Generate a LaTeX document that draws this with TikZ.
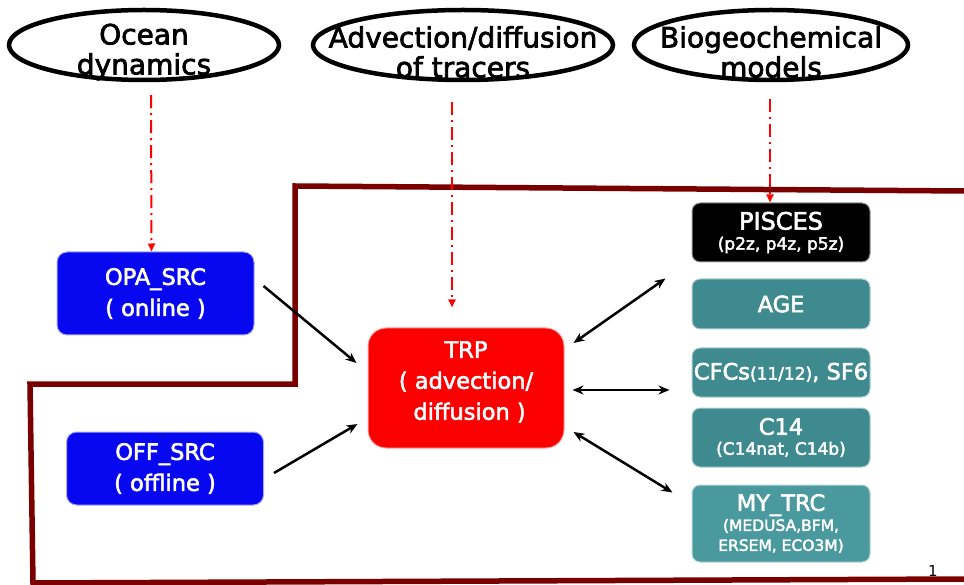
\documentclass[tikz,border=0pt]{standalone}
\usepackage{fontspec}
\setmainfont{DejaVu Sans}
\newfontfamily\heavysans[FakeBold=2.5]{DejaVu Sans}
\usetikzlibrary{arrows.meta,shapes.geometric}

\definecolor{srcblue}{RGB}{8,8,240}
\definecolor{trpred}{RGB}{252,0,0}
\definecolor{trcteal}{RGB}{62,138,143}
\definecolor{trcteal2}{RGB}{74,153,158}
\definecolor{framered}{RGB}{122,0,0}

\newcommand{\subtxt}[1]{{\fontsize{17}{20}\selectfont #1}}

\begin{document}
\begin{tikzpicture}[x=1pt, y=-1pt,
  >={Stealth[length=11pt,width=9pt]},
  theme/.style={ellipse, draw, line width=4.5pt, inner sep=0pt, minimum height=70pt},
  themetxt/.style={align=center, font=\heavysans\fontsize{28}{30}\selectfont, yshift=-7pt},
  srcbox/.style={rounded corners=10pt, fill=srcblue, draw=srcblue!35, line width=1pt,
    text=white, align=center, inner sep=0pt, minimum width=197pt,
    font=\heavysans\fontsize{22.5}{31}\selectfont},
  trcbox/.style={rounded corners=8pt, fill=trcteal, draw=trcteal!40, line width=1pt,
    text=white, align=center, inner sep=0pt, minimum width=178pt,
    font=\heavysans\fontsize{22.5}{20}\selectfont},
  flowline/.style={red, line width=2pt, dash pattern=on 13pt off 5pt on 2pt off 5pt,
    -{Triangle[length=8pt,width=7pt]}},
  link/.style={line width=2.5pt}]
\useasboundingbox (0,0) rectangle (964,585);
% Frame around the tracer part
\draw[framered, line width=5.5pt] (964,191) -- (295,186) -- (295,384) -- (30,384)
  -- (33,583) -- (964,579);
% Themes
\node[theme, minimum width=270pt, label={[themetxt]center:{Ocean\\dynamics}}] (ocean) at (144,45) {};
\node[theme, minimum width=300pt, label={[themetxt]center:{Advection/diffusion\\of tracers}}] (adv) at (463,45) {};
\node[theme, minimum width=274pt, label={[themetxt]center:{Biogeochemical\\models}}] (bio) at (771,45) {};
% Sources
\node[srcbox, minimum height=83pt] (opa) at (155.5,293.5) {OPA\_SRC\\( online )};
\node[srcbox, minimum height=73pt] (off) at (165,468.5) {OFF\_SRC\\( offline )};
% Transport
\node[srcbox, fill=trpred, draw=trpred!35, rounded corners=18pt, minimum width=196pt,
  minimum height=120pt, label={[srcbox, fill=none, draw=none, yshift=6pt]center:{TRP\\( advection/\\~diffusion )}}]
  (trp) at (466,388) {};
% Tracers
\node[trcbox, fill=black, draw=black!40, minimum height=59pt] (pisces) at (781,232.5)
  {\fontsize{24}{20}\selectfont PISCES\\\subtxt{(p2z, p4z, p5z)}};
\node[trcbox, minimum height=50pt] (age) at (781,304) {AGE};
\node[trcbox, minimum height=49pt] (cfc) at (781,372.5) {CFCs\subtxt{(11/12)}, SF6};
\node[trcbox, minimum height=59pt] (c14) at (781,437.5) {C14\\\subtxt{(C14nat, C14b)}};
\node[trcbox, fill=trcteal2, draw=trcteal2!40, minimum height=77pt] (mytrc) at (781,523.5)
  {MY\_TRC\\{\fontsize{15.5}{19}\selectfont (MEDUSA,BFM,}\\{\fontsize{15.5}{19}\selectfont ERSEM, ECO3M)}};
% Page number
\node[font=\fontsize{15}{15}\selectfont] (pagenum) at (933,571) {1};
% Dash-dot links
\draw[flowline] ([xshift=7pt,yshift=-13pt]ocean.south) -- ([xshift=-4pt]opa.north);
\draw[flowline] ([xshift=-11pt,yshift=-20pt]adv.south) -- ([xshift=-14pt,yshift=20pt]trp.north);
\draw[flowline] ([xshift=-1pt,yshift=-17pt]bio.south) -- ([xshift=-11pt]pisces.north);
% Sources to TRP
\draw[link, ->] ([xshift=9pt,yshift=7.5pt]opa.east) -- ([xshift=-11pt,yshift=25pt]trp.west);
\draw[link, ->] ([xshift=10pt,yshift=-4.5pt]off.east) -- ([xshift=-10pt,yshift=-36pt]trp.west);
% TRP to tracers
\draw[link, <->] ([xshift=9pt,yshift=45pt]trp.east) -- ([xshift=-26pt,yshift=-16pt]pisces.south west);
\draw[link, <->] ([xshift=8pt,yshift=-2pt]trp.east) -- ([xshift=-22pt,yshift=-17.5pt]cfc.west);
\draw[link, <->] ([xshift=9pt,yshift=-44pt]trp.east) -- ([xshift=-19pt,yshift=-8pt]mytrc.north west);
\end{tikzpicture}
\end{document}
